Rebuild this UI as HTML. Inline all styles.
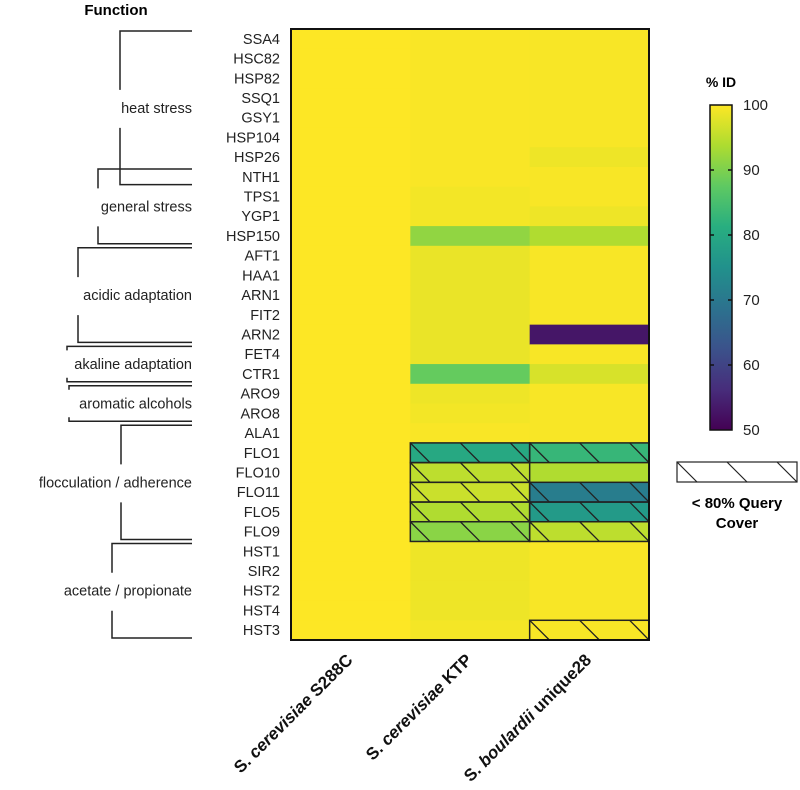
<!DOCTYPE html>
<html><head><meta charset="utf-8"><style>
html,body{margin:0;padding:0;background:#fff;}
svg{display:block;font-family:"Liberation Sans",Arial,sans-serif;}
</style></head><body>
<svg id="chart" width="800" height="790" viewBox="0 0 800 790">
<defs>
<linearGradient id="vir" x1="0" y1="1" x2="0" y2="0">
<stop offset="0" stop-color="#440154"/><stop offset="0.125" stop-color="#472d7b"/><stop offset="0.25" stop-color="#3b528b"/><stop offset="0.375" stop-color="#2c728e"/><stop offset="0.5" stop-color="#21918c"/><stop offset="0.625" stop-color="#28ae80"/><stop offset="0.75" stop-color="#5ec962"/><stop offset="0.875" stop-color="#addc30"/><stop offset="1" stop-color="#fde725"/>
</linearGradient>
</defs>
<text x="116" y="15" text-anchor="middle" font-weight="bold" font-size="15">Function</text>
<g id="brackets" stroke="#222" stroke-width="1.5" fill="none"></g>
<g id="funcLabels" font-size="14.5" fill="#222" text-anchor="end"></g>
<g id="rowLabels" font-size="14.5" fill="#222" text-anchor="end"></g>
<g id="cells"></g>
<g id="hatch"></g>
<rect x="291" y="29" width="358" height="611" fill="none" stroke="#111" stroke-width="2"/>
<g id="colLabels" font-size="17" font-weight="bold" fill="#111"></g>
<text x="721" y="87" text-anchor="middle" font-weight="bold" font-size="14">% ID</text>
<rect x="710" y="105" width="22" height="325" fill="url(#vir)" stroke="#111" stroke-width="1.5"/>
<g id="cbTicks" font-size="15" fill="#222"></g>
<g>
<rect x="677" y="462" width="120" height="20" fill="#fff" stroke="#222" stroke-width="1.2"/>
<path d="M677 462 L697 482 M727 462 L747 482 M777 462 L797 482" stroke="#222" stroke-width="1.2"/>
<text x="737" y="508" text-anchor="middle" font-weight="bold" font-size="15">&lt; 80% Query</text>
<text x="737" y="528" text-anchor="middle" font-weight="bold" font-size="15">Cover</text>
</g>
</svg>
<script>
const genes=["SSA4","HSC82","HSP82","SSQ1","GSY1","HSP104","HSP26","NTH1","TPS1","YGP1","HSP150","AFT1","HAA1","ARN1","FIT2","ARN2","FET4","CTR1","ARO9","ARO8","ALA1","FLO1","FLO10","FLO11","FLO5","FLO9","HST1","SIR2","HST2","HST4","HST3"];
const strains=["S288C","KTP","unique28"];
const idS288C=[100,100,100,100,100,100,100,100,100,100,100,100,100,100,100,100,100,100,100,100,100,100,100,100,100,100,100,100,100,100,100];
const idKTP=[99.7,99.7,99.7,99.7,99.7,99.7,99.7,99.7,99.2,99.2,91.5,98.5,98.5,98.5,98.5,98.5,98.5,88,98.8,99.2,99.7,80,95,96,94,91,98.8,98.8,98.8,98.8,99.3];
const idUnique28=[99.6,99.6,99.6,99.6,99.6,99.6,98.8,99.6,99.6,98.8,94,99.6,99.6,99.6,99.6,53,99.6,97,99.6,99.6,99.6,83,94,71,77,95,99.6,99.6,99.6,99.6,99.6];
const lowCoverKTP=["FLO1","FLO10","FLO11","FLO5","FLO9"];
const lowCoverUnique28=["FLO1","FLO11","FLO5","FLO9","HST3"];
const cbTicks=[50,60,70,80,90,100];
const groups=[["heat stress",0,7],["general stress",7,10],["acidic adaptation",11,15],["akaline adaptation",16,17],["aromatic alcohols",18,19],["flocculation / adherence",20,25],["acetate / propionate",26,30]];

const NS="http://www.w3.org/2000/svg";
const X0=291,CW=119.33,Y0=29,RH=611/31;
const xs=i=>X0+i*CW, ys=i=>Y0+i*RH;
const vmin=50,vmax=100;
const stops=["#440154","#472d7b","#3b528b","#2c728e","#21918c","#28ae80","#5ec962","#addc30","#fde725"];
function hex(h){return [1,3,5].map(i=>parseInt(h.substr(i,2),16));}
function color(v){let t=Math.max(0,Math.min(1,(v-vmin)/(vmax-vmin)))*(stops.length-1);let i=Math.min(stops.length-2,Math.floor(t)),f=t-i;const a=hex(stops[i]),b=hex(stops[i+1]);return "rgb("+a.map((c,k)=>Math.round(c+(b[k]-c)*f)).join(",")+")";}
function el(tag,attrs,parent){const e=document.createElementNS(NS,tag);for(const k in attrs)e.setAttribute(k,attrs[k]);parent.appendChild(e);return e;}

const series=[idS288C,idKTP,idUnique28];
const cells=document.getElementById("cells");
series.forEach((s,c)=>s.forEach((v,r)=>{
  const e=el("rect",{x:xs(c),y:ys(r),width:CW+0.5,height:RH+0.5,fill:color(v)},cells);
  
  
}));
const hatch=document.getElementById("hatch");
[[1,lowCoverKTP],[2,lowCoverUnique28]].forEach(([c,list])=>list.forEach(g=>{
  const r=genes.indexOf(g);const x=xs(c),y=ys(r);
  const gr=el("g",{},hatch);
  
  
  let d="";for(let k=0;k<3;k++){const x1=x+k*50;d+=`M${x1} ${y} L${Math.min(x1+RH,x+CW)} ${y+RH} `;}
  el("path",{d:d,stroke:"#222","stroke-width":1.3,fill:"none"},gr);
  el("rect",{x:x,y:y,width:CW,height:RH,fill:"none",stroke:"#222","stroke-width":1.5},gr);
}));
const rl=document.getElementById("rowLabels");
genes.forEach((g,r)=>{const t=el("text",{x:280,y:ys(r)+RH/2+5},rl);t.textContent=g;
  
  });
const br=document.getElementById("brackets"),fl=document.getElementById("funcLabels");
const bx=[120,98,78,67,69,121,112];
groups.forEach(([name,a,b],i)=>{
  const y1=ys(a)+2,y2=ys(b)+RH-2,ym=(y1+y2)/2,x=bx[i];
  let d;
  if(b-a>=3) d=`M192 ${y1} H${x} V${ym-18} M${x} ${ym+20} V${y2} H192`;
  else d=`M192 ${y1} H${x} V${y1+4} M${x} ${y2-4} V${y2} H192`;
  const p=el("path",{d:d},br);
  
  
  const t=el("text",{x:192,y:ym+5},fl);t.textContent=name;
  
  
});
const cl=document.getElementById("colLabels");
const colText=[["S. cerevisiae"," S288C"],["S. cerevisiae"," KTP"],["S. boulardii"," unique28"]];
colText.forEach((pr,c)=>{
  const x=xs(c)+CW/2+3,y=661;
  const t=el("text",{x:x,y:y,"text-anchor":"end",transform:`rotate(-45 ${x} ${y})`},cl);
  
  
  const parts=pr[0].split(" ");
  const a=el("tspan",{},t);a.textContent=parts[0]+" ";
  const b=el("tspan",{"font-style":"italic"},t);b.textContent=parts[1];
  const d=el("tspan",{},t);d.textContent=pr[1];
});
const cb=document.getElementById("cbTicks");
const cy=v=>430-(v-50)/50*325;
cbTicks.forEach(v=>{
  if(v>50&&v<100){el("line",{x1:710,x2:714,y1:cy(v),y2:cy(v),stroke:"#111","stroke-width":1.5},cb);el("line",{x1:728,x2:732,y1:cy(v),y2:cy(v),stroke:"#111","stroke-width":1.5},cb);}
  const t=el("text",{x:743,y:cy(v)+5},cb);t.textContent=v;
  
  
});
</script>
</body></html>
